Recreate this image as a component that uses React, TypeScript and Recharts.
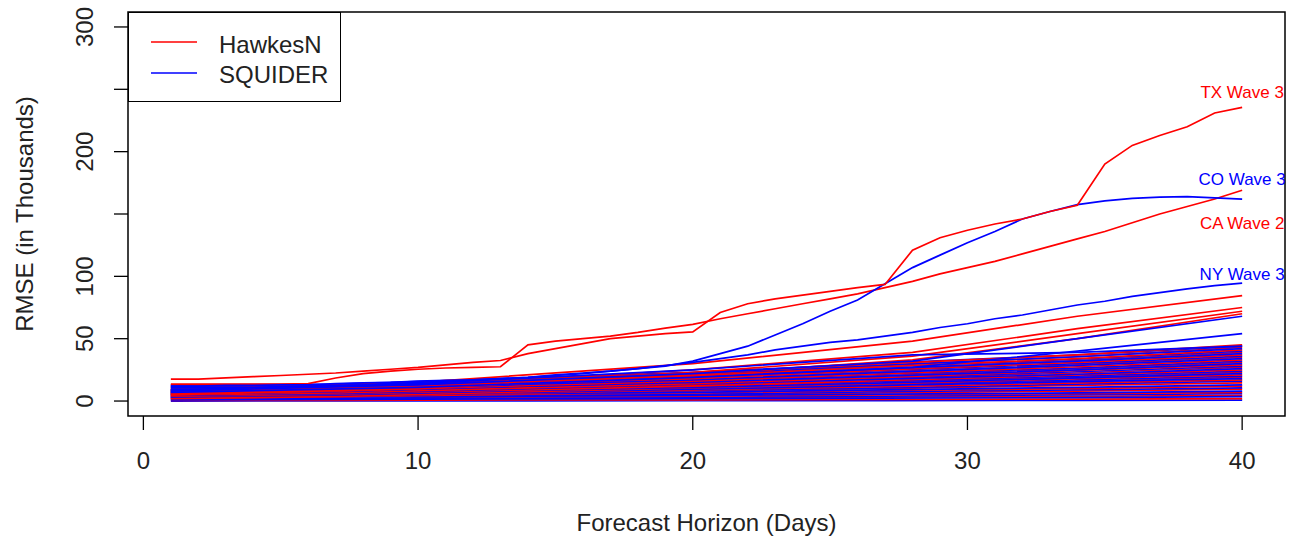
import { LineChart, Line, XAxis, YAxis, ReferenceArea, ReferenceDot } from 'recharts'

const FONT = '"Liberation Sans", Arial, sans-serif'
const RED = '#ff0000'
const BLUE = '#0000ff'

// forecast horizon, days 1..40
const days = [
  1, 2, 3, 4, 5, 6, 7, 8, 9, 10, 11, 12, 13, 14, 15, 16, 17, 18, 19, 20,
  21, 22, 23, 24, 25, 26, 27, 28, 29, 30, 31, 32, 33, 34, 35, 36, 37, 38, 39, 40,
]

// labelled series (RMSE in thousands, one value per day)
const txWave3 = [
  17.5, 17.5, 18.5, 19.5, 20.5, 21.5, 22.5, 24, 25.5, 27, 29, 31, 32.5, 38, 42, 46, 50, 52, 54, 55.5,
  71, 78, 82, 85, 88, 91, 93.5, 121, 131, 137, 142, 146, 152, 157, 190, 205, 213, 220, 231, 235.5,
]
const caWave2 = [
  13.5, 13.5, 13.5, 13.5, 13.5, 14, 18.5, 22, 24, 25.5, 26.5, 27, 27.5, 45, 48, 50, 52, 55, 58.5, 61.5,
  66, 70, 74, 78, 82, 86, 91, 96, 102, 107, 112, 118, 124, 130, 136, 143, 150, 156, 162, 169,
]
const coWave3 = [
  12, 12, 12.5, 12.5, 13, 13, 14, 14.5, 15, 16, 16.5, 17, 18, 19, 21, 22.5, 24, 26, 28, 32,
  38, 44, 53, 62, 72, 81, 94, 107, 117, 127, 136, 146, 152, 157.5, 160.5, 162.5, 163.5, 164, 163, 162,
]
const nyWave3 = [
  10.5, 10.5, 11, 11, 11.5, 12, 12.5, 13, 14, 15, 16, 17, 18, 19, 20.5, 22, 24, 26, 28.5, 31,
  34, 37, 41, 44, 47, 49, 52, 55, 59, 62, 66, 69, 73, 77, 80, 84, 87, 90, 92.5, 94.5,
]

// mid-level series, read at these days
const midDays = [1, 10, 20, 28, 34, 40]
const hawkesMid = [
  [9, 15, 30, 48, 68, 84.5],
  [7, 12, 25, 39, 58, 75],
  [6, 11, 23, 36, 54, 72],
  [5, 10, 21, 33, 50, 70],
]
const squiderMid = [
  [8, 13, 22, 32, 50, 68],
  [7, 11, 19, 27, 40, 54],
  [9, 14, 25, 37, 39, 44],
]

// the dense bundle near the bottom, read at these days
const bulkDays = [1, 7, 14, 20, 27, 34, 40]
const hawkesBulk = [
  [0.5, 0.6, 0.9, 1, 1.3, 1.6, 2],
  [1.5, 1.8, 2.2, 2.5, 3.2, 3.8, 4.5],
  [4.5, 4.2, 3.5, 4, 5, 6, 7],
  [3.5, 3.8, 4.4, 5, 6.5, 8, 9.5],
  [2.5, 3.5, 5.5, 6.5, 8.5, 10, 12],
  [5.5, 5.8, 6.8, 8, 10, 12.5, 14.5],
  [3, 4.5, 6.5, 9, 11.5, 14.5, 17],
  [6.5, 7, 8.5, 10, 13, 16, 19],
  [2, 3.5, 7.5, 10.5, 14, 18, 21],
  [7.5, 8, 9.5, 11.5, 15.5, 19, 23],
  [4, 5.5, 9, 12, 16.5, 21, 25],
  [8.5, 9, 11, 13, 18, 22.5, 27],
  [5, 6.5, 10.5, 14, 19, 24.5, 29],
  [9.5, 10, 12.5, 15, 20.5, 26, 31],
  [6, 8, 12.5, 16, 22, 27.5, 33],
  [10.5, 11, 14, 17, 23.5, 29, 35],
  [7, 9.5, 14.5, 18, 25, 31, 37],
  [11.5, 12, 15.5, 19, 26, 32.5, 39],
  [8, 11, 16, 20, 27.5, 34, 41],
  [12.5, 13, 17, 21, 28.5, 35.5, 43],
  [9, 12, 18, 22, 30, 37, 45],
]
const squiderBulk = [
  [0, 0.1, 0.2, 0.3, 0.4, 0.6, 0.8],
  [1, 1.3, 1.7, 2, 2.3, 2.8, 3.5],
  [2, 2.3, 2.7, 3, 4, 5, 6],
  [3, 3.3, 3.9, 4.5, 5.5, 6.5, 8],
  [4, 4.3, 5, 5.5, 7.5, 9, 10.5],
  [5, 5.3, 6.2, 7, 9, 11, 13],
  [6, 6.3, 7.5, 8.5, 10.5, 13.5, 16],
  [2.5, 3.5, 7, 9.5, 12.5, 15.5, 18],
  [7, 7.5, 8.8, 10, 13.5, 17, 20],
  [3.5, 5, 8.5, 11, 14.5, 18.5, 22],
  [8, 8.5, 10.5, 12.5, 16, 20, 24],
  [4.5, 6, 10, 13.5, 17.5, 21.5, 26],
  [9, 9.5, 11.5, 14, 18.5, 23.5, 28],
  [5.5, 7.5, 12, 15, 20, 25, 30],
  [10, 10.5, 13, 16, 21.5, 26.5, 32],
  [6.5, 8.5, 13.5, 17, 23, 28.5, 34],
  [11, 11.5, 15, 18.5, 24.5, 30, 36],
  [7.5, 10, 15.5, 19.5, 26, 32, 38],
  [12, 12.5, 16.5, 20.5, 27.5, 33.5, 40],
  [8.5, 11.5, 17, 21.5, 29, 35.5, 42],
  [13, 13.5, 18.5, 23, 30.5, 37, 44],
]

const xTicks = [0, 10, 20, 30, 40]
const yTicks = [0, 50, 100, 150, 200, 250, 300]
const yTickLabels = ['0', '50', '100', '', '200', '', '300']

const curveNames = ['TX Wave 3', 'CO Wave 3', 'CA Wave 2', 'NY Wave 3']
const curveLabelY = [248, 178, 143, 102]
const curveColors = [RED, BLUE, RED, BLUE]

const toPoints = (xs: number[], vals: number[]) => xs.map((d, i) => ({ day: d, v: vals[i] }))

const YTick = (props: any) => {
  const { x, y, payload } = props
  const label = yTickLabels[yTicks.indexOf(payload.value)]
  const cx = x - 27
  return (
    <text
      x={cx}
      y={y}
      transform={`rotate(-90 ${cx} ${y})`}
      textAnchor="middle"
      dominantBaseline="central"
      fontSize={24}
      fontFamily={FONT}
      fill="#222"
    >
      {label}
    </text>
  )
}

const series = (key: string, data: { day: number; v: number }[], color: string) => (
  <Line
    key={key}
    data={data}
    dataKey="v"
    type="linear"
    stroke={color}
    strokeWidth={1.7}
    dot={false}
    activeDot={false}
    isAnimationActive={false}
  />
)

export default function App() {
  // red and blue drawn in alternating order so neither colour covers the other everywhere
  const bulk = hawkesBulk.flatMap((r, i) => {
    const red = series('hb' + i, toPoints(bulkDays, r), RED)
    const blue = series('sb' + i, toPoints(bulkDays, squiderBulk[i]), BLUE)
    return i % 2 === 0 ? [blue, red] : [red, blue]
  })
  return (
    <div style={{ position: 'absolute', left: 0, top: 0, width: 1296, height: 540, background: '#fff', fontFamily: FONT }}>
      <LineChart width={1296} height={540} margin={{ top: 12, right: 11, left: 0, bottom: 0 }}>
        <XAxis
          type="number"
          dataKey="day"
          domain={[-0.56, 41.56]}
          ticks={xTicks}
          height={124}
          tickSize={14}
          tickMargin={22}
          axisLine={false}
          tickLine={{ stroke: '#000', strokeWidth: 1.3 }}
          tick={{ fontSize: 24, fill: '#222', fontFamily: FONT }}
          allowDataOverflow
          label={({ viewBox }: any) => (
            <text
              x={viewBox.x + viewBox.width / 2}
              y={viewBox.y + 106}
              textAnchor="middle"
              dominantBaseline="central"
              fontSize={24}
              fontFamily={FONT}
              fill="#222"
            >
              Forecast Horizon (Days)
            </text>
          )}
        />
        <YAxis
          type="number"
          domain={[-12, 312]}
          ticks={yTicks}
          width={128}
          tickSize={14}
          axisLine={false}
          tickLine={{ stroke: '#000', strokeWidth: 1.3 }}
          tick={<YTick />}
          allowDataOverflow
          label={({ viewBox }: any) => {
            const cx = viewBox.x + 24
            const cy = viewBox.y + viewBox.height / 2
            return (
              <text
                x={cx}
                y={cy}
                transform={`rotate(-90 ${cx} ${cy})`}
                textAnchor="middle"
                dominantBaseline="central"
                fontSize={24}
                fontFamily={FONT}
                fill="#222"
              >
                RMSE (in Thousands)
              </text>
            )
          }}
        />
        {bulk}
        {hawkesMid.map((r, i) => series('hm' + i, toPoints(midDays, r), RED))}
        {squiderMid.map((r, i) => series('sm' + i, toPoints(midDays, r), BLUE))}
        {series('ny', toPoints(days, nyWave3), BLUE)}
        {series('ca', toPoints(days, caWave2), RED)}
        {series('co', toPoints(days, coWave3), BLUE)}
        {series('tx', toPoints(days, txWave3), RED)}
        {curveNames.map((name, i) => (
          <ReferenceDot
            key={name}
            x={40}
            y={curveLabelY[i]}
            r={0}
            fill="none"
            stroke="none"
            label={{ value: name, position: 'center', fill: curveColors[i], fontSize: 17, fontFamily: FONT }}
          />
        ))}
        <ReferenceArea
          x1={-0.56}
          x2={41.56}
          y1={-12}
          y2={312}
          fill="none"
          stroke="#000"
          strokeWidth={1.5}
          ifOverflow="visible"
        />
      </LineChart>
      <div
        style={{
          position: 'absolute',
          left: 128,
          top: 12,
          width: 213,
          height: 90,
          background: '#fff',
          border: '1.5px solid #000',
          boxSizing: 'border-box',
        }}
      >
        <svg width={213} height={90}>
          <line x1={22} x2={68} y1={29} y2={29} stroke={RED} strokeWidth={1.6} />
          <line x1={22} x2={68} y1={60} y2={60} stroke={BLUE} strokeWidth={1.6} />
          <text x={90} y={31} dominantBaseline="central" fontSize={24} fontFamily={FONT} fill="#222">
            HawkesN
          </text>
          <text x={90} y={61} dominantBaseline="central" fontSize={24} fontFamily={FONT} fill="#222">
            SQUIDER
          </text>
        </svg>
      </div>
    </div>
  )
}
